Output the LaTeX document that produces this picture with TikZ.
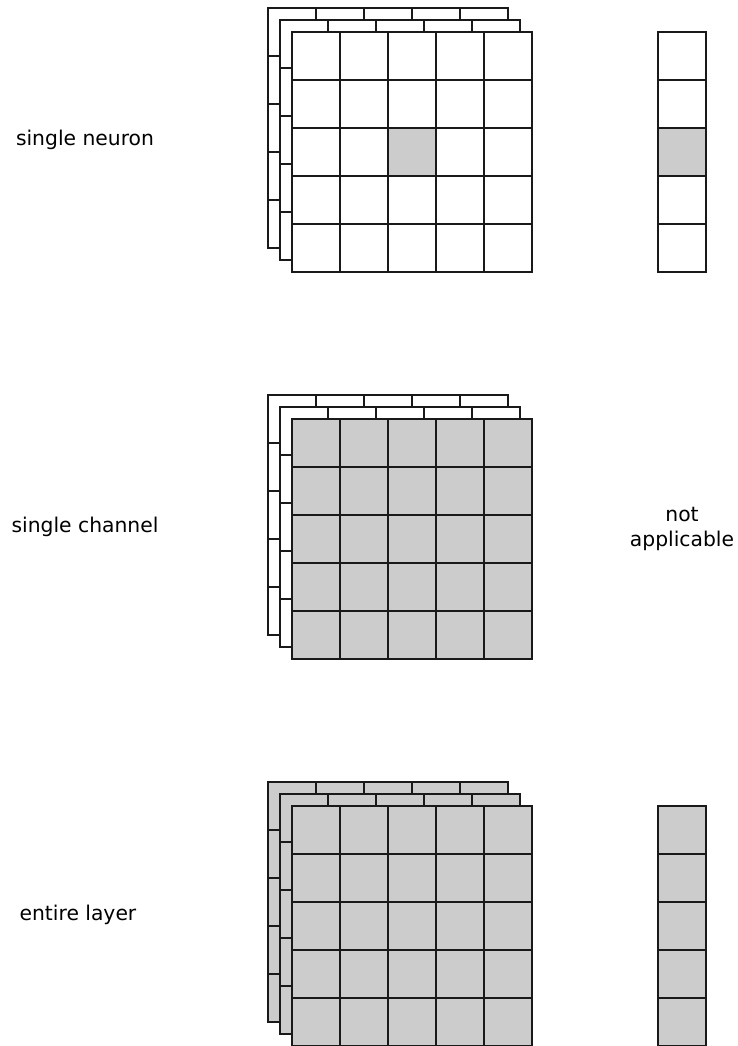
\documentclass[tikz,border=0pt]{standalone}
\usepackage{fontspec}
\setmainfont{DejaVu Sans}
\begin{document}
\begin{tikzpicture}[x=1pt, y=-1pt, line width=1.3pt,
  cell/.style={draw=black!90, fill=white},
  on/.style={draw=black!90, fill=black!20},
  lbl/.style={font=\fontsize{20.3}{24.5}\selectfont, align=center}]
  \useasboundingbox (0,0) rectangle (738,1046);
  % feature map stacks: row top / back fill / front fill
  \foreach \y/\bk/\fr in {32/cell/cell, 419/cell/on, 806/on/on}{
    \foreach \l in {2,1}
      \foreach \i in {0,...,4}
        \foreach \j in {0,...,4}
          \draw[\bk] ({292+48*\i-12*\l},{\y+48*\j-12*\l}) rectangle ++(48,48);
    \foreach \i in {0,...,4}
      \foreach \j in {0,...,4}
        \draw[\fr] ({292+48*\i},{\y+48*\j}) rectangle ++(48,48);
  }
  \draw[on] (388,128) rectangle ++(48,48);
  % dense layer columns
  \foreach \j in {0,...,4}{
    \draw[cell] (658,{32+48*\j}) rectangle ++(48,48);
    \draw[on] (658,{806+48*\j}) rectangle ++(48,48);
  }
  \draw[on] (658,128) rectangle ++(48,48);
  % labels
  \node[lbl] (neuron) at (85,140) {single neuron};
  \node[lbl] (channel) at (85,527) {single channel};
  \node[lbl] (layer) at (78,915) {entire layer};
  \node[lbl] (na) at (682,529) {not\\applicable};
\end{tikzpicture}
\end{document}
